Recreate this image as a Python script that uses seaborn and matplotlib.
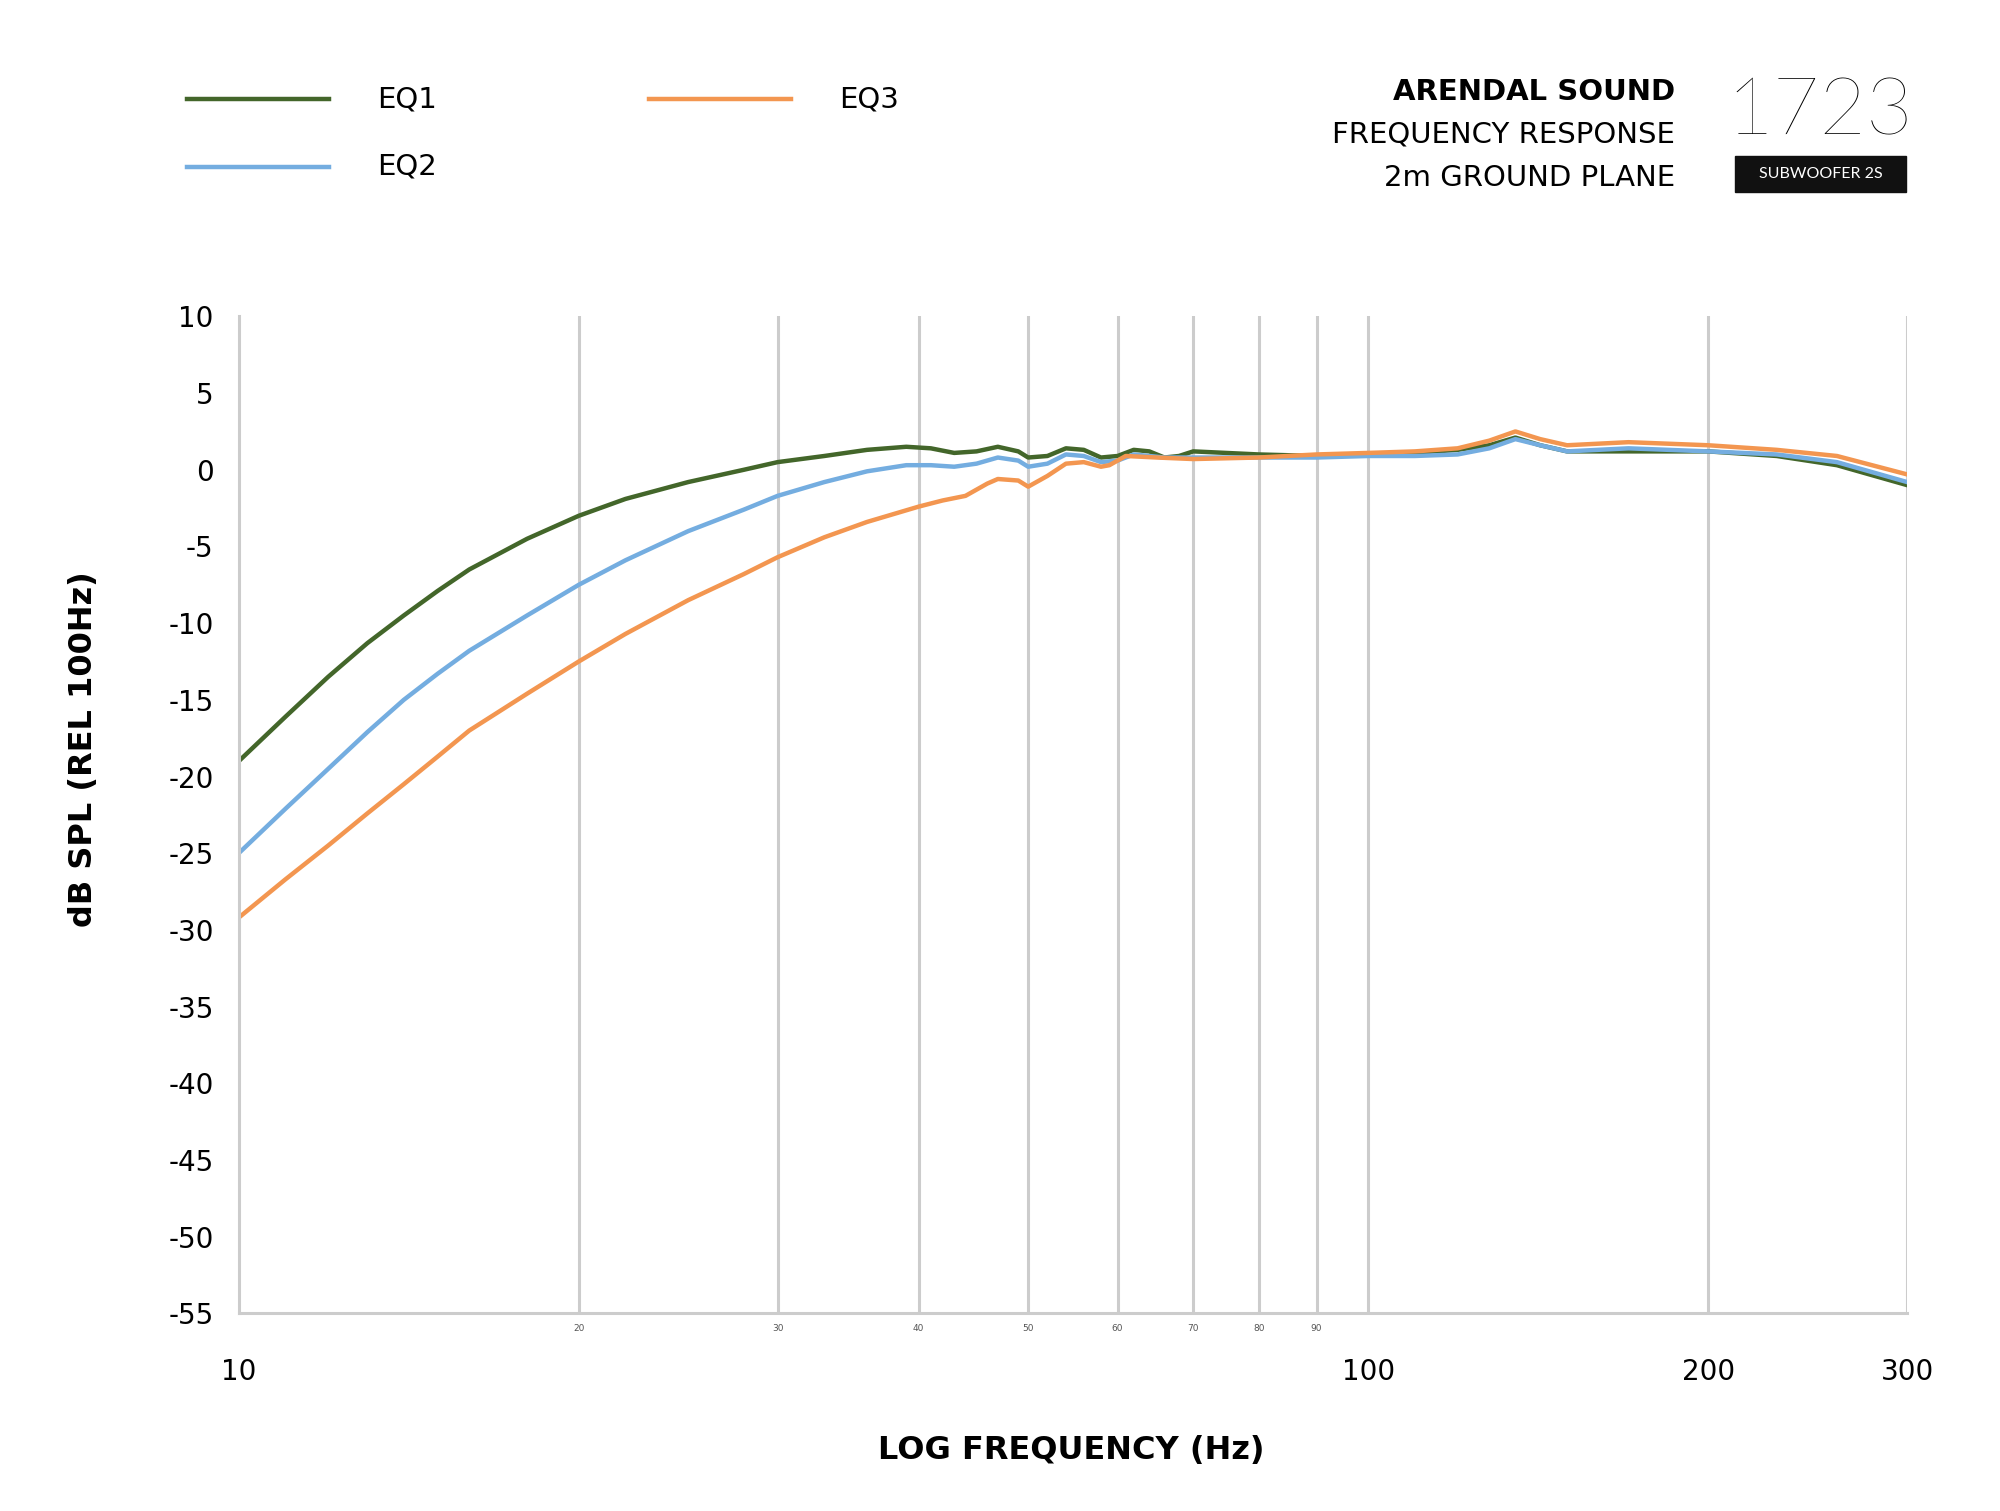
import matplotlib
matplotlib.use("Agg")
import matplotlib.pyplot as plt
import seaborn as sns
import pandas as pd
from matplotlib.patches import Rectangle
from matplotlib.lines import Line2D

FONT = "DejaVu Sans"
W, H = 1550.0, 1170.0

freq1 = [10, 11, 12, 13, 14, 15, 16, 18, 20, 22, 25, 28, 30, 33, 36, 39, 41, 43, 45, 47, 49, 50, 52, 54, 56, 58, 60, 62, 64, 66, 68, 70, 80, 90, 100, 110, 120, 128, 135, 142, 150, 170, 200, 230, 260, 300]
eq1 = [-19, -16.1, -13.5, -11.3, -9.5, -7.9, -6.5, -4.5, -3.0, -1.9, -0.8, 0.0, 0.5, 0.9, 1.3, 1.5, 1.4, 1.1, 1.2, 1.5, 1.2, 0.8, 0.9, 1.4, 1.3, 0.8, 0.9, 1.3, 1.2, 0.8, 0.9, 1.2, 1.0, 0.9, 1.0, 1.1, 1.3, 1.6, 2.1, 1.6, 1.2, 1.2, 1.2, 0.9, 0.3, -1.0]
freq2 = [10, 11, 12, 13, 14, 15, 16, 18, 20, 22, 25, 28, 30, 33, 36, 39, 41, 43, 45, 47, 49, 50, 52, 54, 56, 58, 60, 62, 64, 66, 70, 80, 90, 100, 110, 120, 128, 135, 142, 150, 170, 200, 230, 260, 300]
eq2 = [-25, -22.1, -19.5, -17.1, -15, -13.3, -11.8, -9.5, -7.5, -5.9, -4.0, -2.6, -1.7, -0.8, -0.1, 0.3, 0.3, 0.2, 0.4, 0.8, 0.6, 0.2, 0.4, 1.0, 0.9, 0.5, 0.6, 1.0, 0.9, 0.8, 0.8, 0.8, 0.8, 0.9, 0.9, 1.0, 1.4, 2.0, 1.6, 1.2, 1.4, 1.2, 1.0, 0.5, -0.8]
freq3 = [10, 11, 12, 13, 14, 15, 16, 18, 20, 22, 25, 28, 30, 33, 36, 40, 42, 44, 46, 47, 49, 50, 52, 54, 56, 58, 59, 61, 65, 70, 80, 90, 100, 110, 120, 128, 135, 142, 150, 170, 200, 230, 260, 300]
eq3 = [-29.2, -26.7, -24.5, -22.4, -20.5, -18.7, -17, -14.6, -12.5, -10.7, -8.5, -6.8, -5.7, -4.4, -3.4, -2.4, -2.0, -1.7, -0.9, -0.6, -0.7, -1.1, -0.4, 0.4, 0.5, 0.2, 0.3, 0.9, 0.8, 0.7, 0.8, 1.0, 1.1, 1.2, 1.4, 1.9, 2.5, 2.0, 1.6, 1.8, 1.6, 1.3, 0.9, -0.3]

series = ["EQ1", "EQ2", "EQ3"]
colors = ["#43662a", "#74ade0", "#f39650"]
grid_freqs = [20, 30, 40, 50, 60, 70, 80, 90, 100, 200, 300]
minor_labels = [20, 30, 40, 50, 60, 70, 80, 90]
major_labels = [10, 100, 200, 300]
y_ticks = list(range(-55, 11, 5))

df = pd.concat([
    pd.DataFrame({"f": freq1, "db": eq1, "s": "EQ1"}),
    pd.DataFrame({"f": freq2, "db": eq2, "s": "EQ2"}),
    pd.DataFrame({"f": freq3, "db": eq3, "s": "EQ3"}),
])

fig = plt.figure(figsize=(20, 15.11), dpi=100)
ax = fig.add_axes([185 / W, 1 - 1017 / H, (1478 - 185) / W, (1017 - 245) / H])
ax.set_xscale("log")
for g in grid_freqs:
    ax.axvline(g, color="#cccccc", lw=2.2, zorder=0)
sns.lineplot(data=df, x="f", y="db", hue="s", palette=dict(zip(series, colors)),
             ax=ax, lw=3.2, legend=False, sort=True, estimator=None)
ax.set_xlim(10, 300)
ax.set_ylim(-55, 10)
for s in ["top", "right"]:
    ax.spines[s].set_visible(False)
ax.spines["left"].set_color("#cccccc"); ax.spines["left"].set_linewidth(2.2)
ax.spines["bottom"].set_color("#cccccc"); ax.spines["bottom"].set_linewidth(2.2)
ax.set_yticks(y_ticks)
ax.set_yticklabels([str(v) for v in y_ticks], fontsize=20, fontfamily=FONT)
ax.tick_params(axis="y", length=0, pad=18)
ax.set_xticks([]); ax.set_xticks([], minor=True)
ax.set_xlabel(""); ax.set_ylabel("")
for m in minor_labels:
    ax.text(m, -56.0, str(m), fontsize=6.5, ha="center", va="center", color="#555555", fontfamily=FONT)
for m in major_labels:
    ax.text(m, -58.8, str(m), fontsize=20, ha="center", va="center", fontfamily=FONT)

fig.text(830 / W, 1 - 1123 / H, "LOG FREQUENCY (Hz)", fontsize=23, fontweight="bold", ha="center", va="center", fontfamily=FONT)
fig.text(65 / W, 1 - 580 / H, "dB SPL (REL 100Hz)", fontsize=23, fontweight="bold", rotation=90, ha="center", va="center", fontfamily=FONT)

for (x0, y0), name, c in zip([(145, 77), (145, 129), (503, 77)], series, colors):
    fig.add_artist(Line2D([x0 / W, (x0 + 110) / W], [1 - y0 / H] * 2, color=c, lw=3.2))
    fig.text((x0 + 147) / W, 1 - y0 / H, name, fontsize=21, va="center", fontfamily=FONT)

fig.text(1298 / W, 1 - 71 / H, "ARENDAL SOUND", fontsize=21, fontweight="bold", ha="right", va="center", fontfamily=FONT)
fig.text(1298 / W, 1 - 104 / H, "FREQUENCY RESPONSE", fontsize=21, ha="right", va="center", fontfamily=FONT)
fig.text(1298 / W, 1 - 138 / H, "2m GROUND PLANE", fontsize=21, ha="right", va="center", fontfamily=FONT)
fig.text(1410 / W, 1 - 87 / H, "1723", fontsize=58, fontweight="light", ha="center", va="center", fontfamily="Lato")
fig.add_artist(Rectangle((1345 / W, 1 - 149 / H), 132 / W, 28 / H, transform=fig.transFigure, color="#111111"))
fig.text(1411 / W, 1 - 135 / H, "SUBWOOFER 2S", fontsize=11.5, color="white", ha="center", va="center", fontfamily="Lato")

fig.savefig("out.png", dpi=100, facecolor="white")
